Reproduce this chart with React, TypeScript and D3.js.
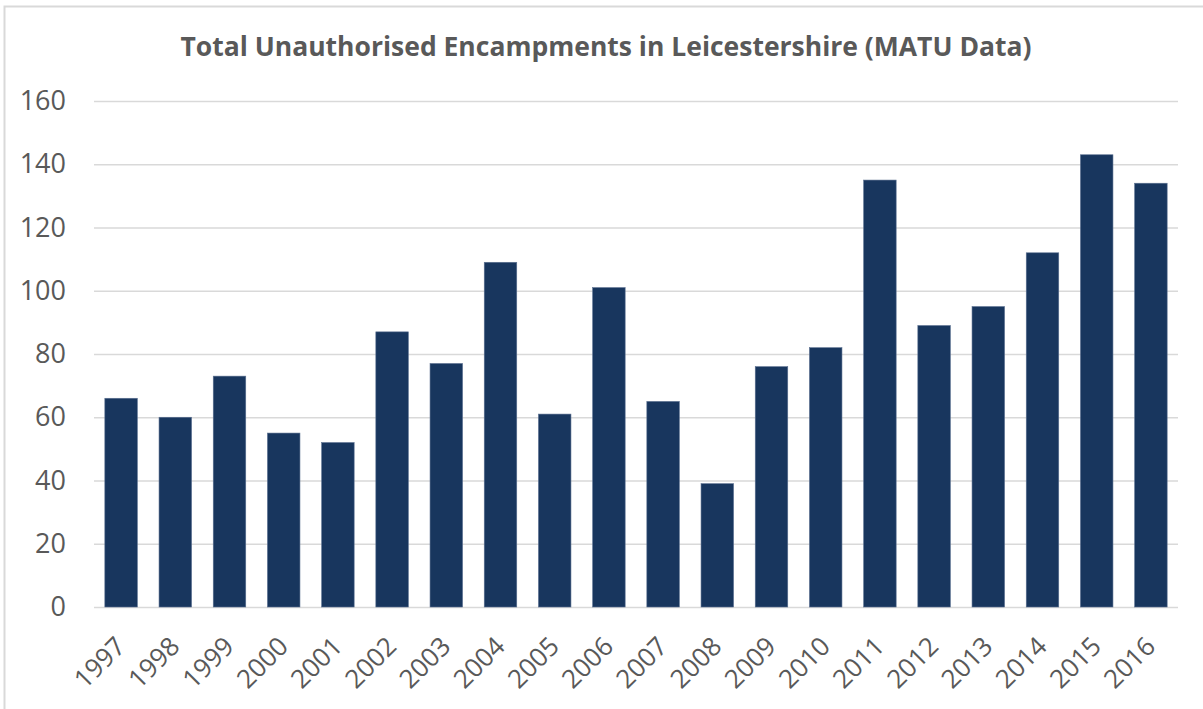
import React, { useEffect, useRef } from 'react'
import * as d3 from 'd3'

const years = ['1997', '1998', '1999', '2000', '2001', '2002', '2003', '2004', '2005', '2006', '2007', '2008', '2009', '2010', '2011', '2012', '2013', '2014', '2015', '2016']
const encampments = [66, 60, 73, 55, 52, 87, 77, 109, 61, 101, 65, 39, 76, 82, 135, 89, 95, 112, 143, 134]
const yTicks = [0, 20, 40, 60, 80, 100, 120, 140, 160]
const title = 'Total Unauthorised Encampments in Leicestershire (MATU Data)'

export default function App() {
  const svgRef = useRef(null)
  const width = 1203
  const height = 709
  const margin = { top: 101, right: 25, bottom: 102, left: 94 }
  const innerW = width - margin.left - margin.right
  const innerH = height - margin.top - margin.bottom

  useEffect(() => {
    const svgEl = d3.select(svgRef.current)
    svgEl.selectAll('*').remove()

    // chart border (right and bottom edges fall outside the picture)
    svgEl
      .append('rect')
      .attr('x', 4.5)
      .attr('y', 6.5)
      .attr('width', width + 20)
      .attr('height', height + 20)
      .attr('fill', 'white')
      .attr('stroke', '#d9d9d9')
      .attr('stroke-width', 2)

    svgEl
      .append('text')
      .attr('x', 606)
      .attr('y', 56)
      .attr('text-anchor', 'middle')
      .style('font-family', '"Open Sans", sans-serif')
      .style('font-weight', 'bold')
      .style('font-size', '26.5px')
      .style('fill', '#595959')
      .text(title)

    const svg = svgEl.append('g').attr('transform', `translate(${margin.left}, ${margin.top})`)

    const x = d3.scaleBand().domain(years).range([0, innerW]).paddingInner(0.4).paddingOuter(0.2)
    const y = d3.scaleLinear().domain([0, 160]).range([innerH, 0])

    // gridlines
    const yAxisGroup = svg.append('g').call(
      d3
        .axisLeft(y)
        .tickValues(yTicks)
        .tickSize(-innerW)
        .tickPadding(28)
    )
    yAxisGroup.select('.domain').remove()
    yAxisGroup.selectAll('line').attr('stroke', '#d9d9d9').attr('stroke-width', 1.5)
    yAxisGroup
      .selectAll('text')
      .style('font-family', '"Open Sans", sans-serif')
      .style('font-size', '27px')
      .attr('fill', '#595959')

    // bars
    svg
      .selectAll('.bar')
      .data(years)
      .enter()
      .append('rect')
      .attr('class', 'bar')
      .attr('x', (d) => x(d))
      .attr('y', (d, i) => y(encampments[i]))
      .attr('width', x.bandwidth())
      .attr('height', (d, i) => innerH - y(encampments[i]))
      .attr('fill', '#18365e')
      .attr('stroke', '#5b7090')
      .attr('stroke-width', 0.6)

    // x axis
    const xAxisGroup = svg
      .append('g')
      .attr('transform', `translate(0, ${innerH})`)
      .call(d3.axisBottom(x).tickSize(0).tickPadding(0))
    xAxisGroup.select('.domain').remove()
    xAxisGroup
      .selectAll('text')
      .style('font-family', '"Open Sans", sans-serif')
      .style('font-size', '26px')
      .attr('fill', '#595959')
      .attr('text-anchor', 'end')
      .attr('y', 0)
      .attr('dy', '0')
      .attr('transform', 'translate(6, 41) rotate(-45)')
  }, [])

  return (
    <svg
      ref={svgRef}
      width={width}
      height={height}
      style={{ display: 'block', position: 'absolute', left: 0, top: 0 }}
    />
  )
}
